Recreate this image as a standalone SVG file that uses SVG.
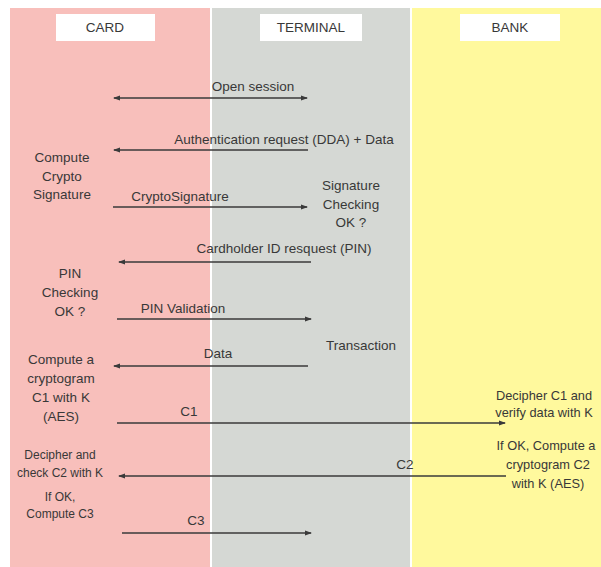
<svg xmlns="http://www.w3.org/2000/svg" width="601" height="567" viewBox="0 0 601 567">
<defs>
<marker id="ah" markerWidth="8" markerHeight="8" refX="6" refY="4" orient="auto-start-reverse" markerUnits="userSpaceOnUse">
<path d="M0,1.5 L7,4 L0,6.5 z" fill="#3a3a3a"/>
</marker>
<style>
text{font-family:"Liberation Sans",Arial,sans-serif;font-size:13.5px;fill:#383838}
.c{text-anchor:middle}
.s{font-size:12px}
.b{font-size:12.8px}
.hb{fill:#ffffff}
.msg{stroke:#3a3a3a;stroke-width:1.5;fill:none}
</style>
</defs>
<rect x="0" y="0" width="601" height="567" fill="#ffffff"/>
<g id="lane-card">
<rect x="10" y="8" width="200" height="559" fill="#f8bfbb"/>
<rect class="hb" x="56" y="14" width="99" height="27"/>
<text class="c" x="105" y="32">CARD</text>
</g>
<g id="lane-terminal">
<rect x="212" y="8" width="198" height="559" fill="#d5d8d4"/>
<rect class="hb" x="260" y="14" width="102" height="27"/>
<text class="c" x="311" y="32">TERMINAL</text>
</g>
<g id="lane-bank">
<rect x="412" y="8" width="189" height="559" fill="#fff99d"/>
<rect class="hb" x="460" y="14" width="100" height="27"/>
<text class="c" x="510" y="32">BANK</text>
</g>
<g id="notes">
<text class="c" x="62" y="162">Compute</text>
<text class="c" x="62" y="181">Crypto</text>
<text class="c" x="62" y="199">Signature</text>
<text class="c" x="351" y="190">Signature</text>
<text class="c" x="351" y="209">Checking</text>
<text class="c" x="351" y="227">OK ?</text>
<text class="c" x="70" y="278">PIN</text>
<text class="c" x="70" y="297">Checking</text>
<text class="c" x="70" y="316">OK ?</text>
<text class="c" x="361" y="350">Transaction</text>
<text class="c" x="61" y="364">Compute a</text>
<text class="c" x="61" y="383">cryptogram</text>
<text class="c" x="61" y="402">C1 with K</text>
<text class="c" x="61" y="421">(AES)</text>
<text class="c s" x="60" y="459">Decipher and</text>
<text class="c s" x="60" y="477">check C2 with K</text>
<text class="c s" x="60" y="501">If OK,</text>
<text class="c s" x="60" y="518">Compute C3</text>
<text class="c b" x="544" y="400">Decipher C1 and</text>
<text class="c b" x="544" y="417">verify data with K</text>
<text class="c b" x="546" y="450">If OK, Compute a</text>
<text class="c b" x="548" y="469">cryptogram C2</text>
<text class="c b" x="548" y="488">with K (AES)</text>
</g>
<g id="connectors">
<line class="msg" x1="114" y1="98" x2="307" y2="98" marker-start="url(#ah)" marker-end="url(#ah)"/>
<text class="c" x="253" y="91">Open session</text>
<line class="msg" x1="308" y1="150" x2="114" y2="150" marker-end="url(#ah)"/>
<text class="c" x="284" y="144">Authentication request (DDA) + Data</text>
<line class="msg" x1="113" y1="207" x2="307" y2="207" marker-end="url(#ah)"/>
<text class="c" x="180" y="201">CryptoSignature</text>
<line class="msg" x1="311" y1="262" x2="119" y2="262" marker-end="url(#ah)"/>
<text class="c" x="284" y="253">Cardholder ID resquest (PIN)</text>
<line class="msg" x1="117" y1="319" x2="311" y2="319" marker-end="url(#ah)"/>
<text class="c" x="183" y="313">PIN Validation</text>
<line class="msg" x1="308" y1="366" x2="114" y2="366" marker-end="url(#ah)"/>
<text class="c" x="218" y="358">Data</text>
<line class="msg" x1="117" y1="423" x2="505" y2="423" marker-end="url(#ah)"/>
<text class="c" x="189" y="416">C1</text>
<line class="msg" x1="506" y1="476" x2="119" y2="476" marker-end="url(#ah)"/>
<text class="c" x="405" y="469">C2</text>
<line class="msg" x1="122" y1="533" x2="311" y2="533" marker-end="url(#ah)"/>
<text class="c" x="196" y="525">C3</text>
</g>
</svg>
